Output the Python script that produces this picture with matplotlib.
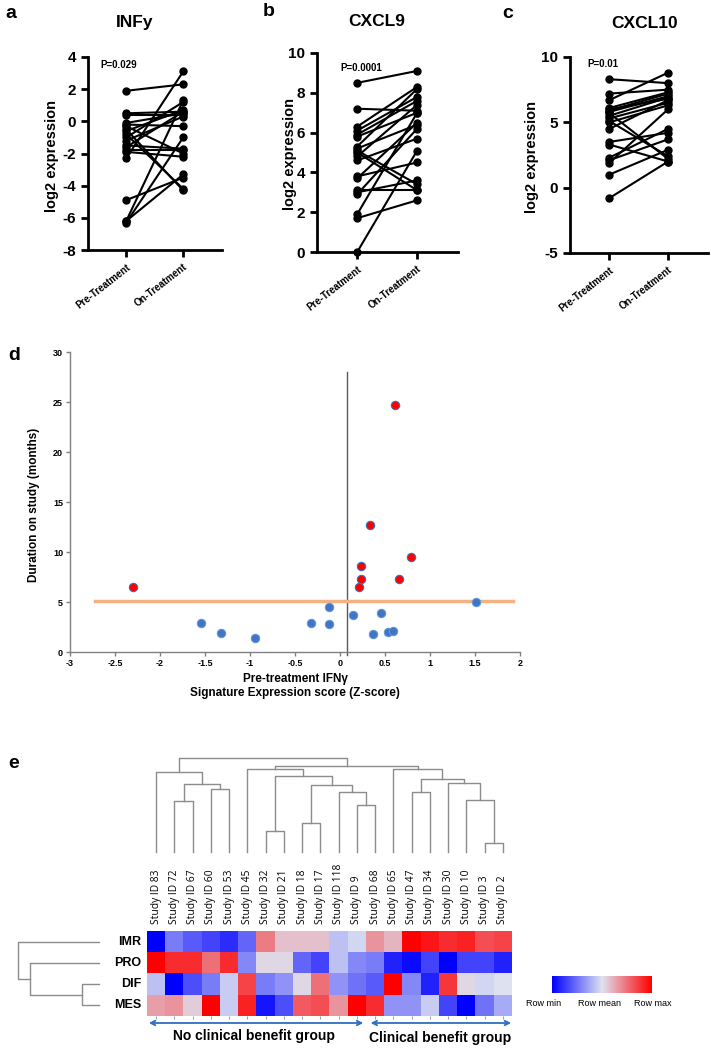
import numpy as np
import matplotlib
matplotlib.use("Agg")
import matplotlib.pyplot as plt
from matplotlib import transforms
from matplotlib.colors import LinearSegmentedColormap

plt.rcParams['font.family'] = ['Liberation Sans', 'DejaVu Sans']
NARROW = ['Liberation Sans Narrow', 'Liberation Sans', 'DejaVu Sans']

W, H = 711, 1050

# ---------------- panels a-c : paired pre / on treatment ----------------
groups = ["Pre-Treatment", "On-Treatment"]

infy_pre = [1.9, 0.5, 0.4, -0.1, -0.2, -0.3, -0.5, -0.6, -0.8, -1.0,
            -1.2, -1.5, -1.6, -1.8, -1.9, -2.3, -4.9, -6.2, -6.3, -6.2]
infy_on = [2.3, 0.6, 0.4, 0.5, -0.3, -2.0, -4.3, 0.7, -4.2, 1.2,
           0.3, -1.7, 0.6, -1.8, -2.2, 3.1, -3.5, 1.3, -1.0, -3.3]

cxcl9_pre = [8.5, 7.2, 6.3, 6.1, 5.9, 5.8, 5.3, 5.2, 5.1, 5.0,
             4.8, 4.6, 3.8, 3.7, 3.1, 2.9, 1.9, 1.7, 0.0, 3.0]
cxcl9_on = [9.1, 7.1, 8.3, 7.8, 7.6, 7.0, 8.2, 6.4, 3.4, 3.1,
            7.4, 5.7, 4.5, 6.5, 3.1, 6.2, 7.0, 2.6, 5.1, 3.6]

cxcl10_pre = [8.3, 7.2, 6.7, 6.1, 5.9, 5.7, 5.5, 5.3, 5.1, 4.5,
              3.5, 3.3, 2.3, 2.1, 1.9, 1.0, -0.8, 5.8, 6.0, 5.0]
cxcl10_on = [8.0, 7.5, 8.8, 7.3, 7.2, 2.2, 6.9, 6.5, 2.4, 6.7,
             4.2, 2.0, 4.5, 3.7, 6.0, 2.9, 2.0, 7.0, 6.8, 6.3]

# ---------------- panel d : IFNg score vs duration ----------------
benefit_x = [-2.30, 0.61, 0.33, 0.79, 0.23, 0.23, 0.65, 0.21]
benefit_y = [6.5, 24.7, 12.7, 9.5, 8.6, 7.3, 7.3, 6.5]
nobenefit_x = [1.51, -1.55, -1.32, -0.95, -0.32, -0.12, -0.12, 0.14, 0.45, 0.37, 0.53, 0.59]
nobenefit_y = [5.0, 2.9, 1.9, 1.4, 2.9, 4.5, 2.8, 3.7, 3.9, 1.8, 2.0, 2.1]
cutoff_x = 0.08
cutoff_y = 5.15
d_xticks = [-3, -2.5, -2, -1.5, -1, -0.5, 0, 0.5, 1, 1.5, 2]
d_yticks = [0, 5, 10, 15, 20, 25, 30]

# ---------------- panel e : heatmap ----------------
study_ids = ["Study ID 83", "Study ID 72", "Study ID 67", "Study ID 60", "Study ID 53",
             "Study ID 45", "Study ID 32", "Study ID 21", "Study ID 18", "Study ID 17",
             "Study ID 118", "Study ID 9", "Study ID 68", "Study ID 65", "Study ID 47",
             "Study ID 34", "Study ID 30", "Study ID 10", "Study ID 3", "Study ID 2"]
row_names = ["IMR", "PRO", "DIF", "MES"]
imr = [-1.0, -0.45, -0.6, -0.7, -0.8, -0.55, 0.45, 0.15, 0.15, 0.15,
       -0.15, -0.05, 0.35, 0.2, 1.0, 0.9, 0.8, 0.85, 0.65, 0.7]
pro = [1.0, 0.8, 0.8, 0.5, 0.8, -0.4, 0.05, 0.05, -0.55, -0.7,
       -0.15, -0.4, -0.45, -0.85, -0.95, -0.7, -1.0, -0.7, -0.7, -0.85]
dif = [-0.15, -1.0, -0.65, -0.45, -0.1, 0.7, -0.45, -0.35, 0.05, 0.5,
       -0.35, -0.5, -0.6, 1.0, -0.4, -0.85, 0.75, 0.05, -0.05, 0.0]
mes = [0.3, 0.35, 0.1, 1.0, -0.1, 0.85, -0.9, -0.65, 0.6, 0.65,
       0.35, 1.0, 0.8, -0.35, -0.35, -0.1, -0.7, -1.0, -0.5, -0.25]
# merges (left, right, height); new node ids continue after the leaves
col_links = [(18, 19, 27), (6, 7, 63), (8, 9, 87), (11, 12, 140), (1, 2, 153),
             (17, 20, 155), (10, 23, 179), (14, 15, 180), (3, 4, 189), (22, 26, 200),
             (24, 28, 202), (16, 25, 205), (27, 31, 217), (21, 29, 225), (0, 30, 237),
             (5, 33, 247), (13, 32, 247), (35, 36, 257), (34, 37, 280)]
row_links = [(2, 3, 17), (1, 4, 69), (0, 5, 81)]
n_nobenefit = 12

fig = plt.figure(figsize=(W / 100, H / 100), dpi=100)


def add_ax(x0, y0, x1, y1):
    return fig.add_axes([x0 / W, 1 - y1 / H, (x1 - x0) / W, (y1 - y0) / H])


def ftext(x, y, s, **kw):
    return fig.text(x / W, 1 - y / H, s, **kw)


def paired(box, pre, on, ylim, yticks, title, tpos, ptxt, ppos, letter, lpos, ylab_x):
    ax = add_ax(*box)
    for a, b in zip(pre, on):
        ax.plot([0, 1], [a, b], color='black', lw=1.5, marker='o', ms=5, zorder=3,
                clip_on=False)
    ax.set_xlim(-0.67, 1.68)
    ax.set_ylim(*ylim)
    for s in ['top', 'right']:
        ax.spines[s].set_visible(False)
    for s in ['left', 'bottom']:
        ax.spines[s].set_linewidth(2)
    ax.tick_params(width=2, length=5)
    ax.set_yticks(yticks, labels=[str(t) for t in yticks], fontweight='bold', fontsize=11)
    ax.set_xticks([0, 1], labels=groups, rotation=38, ha='right',
                  rotation_mode='anchor', fontweight='bold', fontsize=7)
    ftext(tpos[0], tpos[1], title, ha='center', va='center', fontweight='bold', fontsize=12.5)
    ftext(ppos[0], ppos[1], ptxt, ha='left', va='center', fontweight='bold', fontsize=7)
    ftext(lpos[0], lpos[1], letter, ha='center', va='center', fontweight='bold', fontsize=14)
    ftext(ylab_x, (box[1] + box[3]) / 2 + 2, "log2 expression", rotation=90,
          ha='center', va='center', fontweight='bold', fontsize=10.5)
    return ax


paired((88, 57, 222, 250), infy_pre, infy_on, (-8, 4), [-8, -6, -4, -2, 0, 2, 4],
       "INFy", (135, 23), "P=0.029", (100, 65), "a", (11, 13), 52)
paired((317, 53, 458, 252), cxcl9_pre, cxcl9_on, (0, 10), [0, 2, 4, 6, 8, 10],
       "CXCL9", (377, 22), "P=0.0001", (340, 68), "b", (269, 11), 290)
paired((570, 57, 708, 253), cxcl10_pre, cxcl10_on, (-5, 10), [-5, 0, 5, 10],
       "CXCL10", (645, 23), "P=0.01", (587, 64), "c", (508, 13), 532)

# ---------------- panel d ----------------
axd = add_ax(70, 352, 520, 652)
axd.set_xlim(-3, 2)
axd.set_ylim(0, 30)
for s in ['top', 'right']:
    axd.spines[s].set_visible(False)
for s in ['left', 'bottom']:
    axd.spines[s].set_color('#808080')
    axd.spines[s].set_linewidth(1)
axd.tick_params(color='#808080', length=3, width=1, pad=2)
axd.set_xticks(d_xticks, labels=[f"{t:g}" for t in d_xticks], family=NARROW,
               fontweight='bold', fontsize=6.5)
axd.set_yticks(d_yticks, labels=[str(t) for t in d_yticks], family=NARROW,
               fontweight='bold', fontsize=6.5)
axd.plot([cutoff_x, cutoff_x], [-0.25, 28], color='#595959', lw=1, clip_on=False, zorder=2)
axd.plot([-2.72, 1.92], [cutoff_y, cutoff_y], color='#F4B183', lw=2.5, zorder=2)
axd.scatter(nobenefit_x, nobenefit_y, s=36, c='#4472C4', edgecolors='#5B9BD5',
            linewidths=0.8, zorder=3)
axd.scatter(benefit_x, benefit_y, s=36, c='#FF0000', edgecolors='#2E75B6',
            linewidths=0.8, zorder=3)
ftext(34, 505, "Duration on study (months)", rotation=90, ha='center', va='center',
      fontweight='bold', fontsize=8.5)
ftext(295, 679, "Pre-treatment IFN\u03b3", ha='center', va='center',
      fontweight='bold', fontsize=8.5)
ftext(295, 693, "Signature Expression score (Z-score)", ha='center', va='center',
      fontweight='bold', fontsize=8.5)
ftext(14, 355, "d", ha='center', va='center', fontweight='bold', fontsize=14)

# ---------------- panel e ----------------
cmap = LinearSegmentedColormap.from_list("rowscale", ["#0000FF", "#DEE3F1", "#FF0000"])
heat = np.array([imr, pro, dif, mes])

axh = add_ax(147, 931, 512, 1016)
axh.imshow(heat, cmap=cmap, vmin=-1, vmax=1, aspect='auto', interpolation='nearest')
axh.set_yticks([])
axh.set_xticks(range(len(study_ids)), labels=[])
axh.tick_params(axis='x', length=2, color='#9aa4b8', width=0.8)
for s in axh.spines.values():
    s.set_visible(False)

lab_tr = transforms.blended_transform_factory(axh.transData, fig.transFigure)
for i, sid in enumerate(study_ids):
    axh.text(i, 1 - 924 / H, sid, transform=lab_tr, rotation=90, ha='center',
             va='bottom', family=['Open Sans', 'DejaVu Sans'], fontsize=7.4)

for j, rn in enumerate(row_names):
    ytr = transforms.blended_transform_factory(fig.transFigure, axh.transData)
    axh.text(141 / W, j, rn, transform=ytr, ha='right', va='center',
             family=NARROW, fontweight='bold', fontsize=9)


def dendro(ax, links, n, vertical=True):
    pos = {i: float(i) for i in range(n)}
    hgt = {i: 0.0 for i in range(n)}
    for k, (a, b, h) in enumerate(links):
        xs = [pos[a], pos[a], pos[b], pos[b]]
        ys = [hgt[a], h, h, hgt[b]]
        if vertical:
            ax.plot(xs, ys, color='#8c8c8c', lw=1, clip_on=False)
        else:
            ax.plot(ys, xs, color='#8c8c8c', lw=1, clip_on=False)
        pos[n + k] = (pos[a] + pos[b]) / 2
        hgt[n + k] = h


axc = add_ax(147, 758, 512, 852)
dendro(axc, col_links, len(study_ids), vertical=True)
axc.set_xlim(-0.5, len(study_ids) - 0.5)
axc.set_ylim(0, 280)
axc.axis('off')

axr = add_ax(18, 931, 99, 1016)
dendro(axr, row_links, len(row_names), vertical=False)
axr.set_xlim(81, 0)
axr.set_ylim(len(row_names) - 0.5, -0.5)
axr.axis('off')

# group arrows
arrow_kw = dict(arrowstyle='<->', color='#2E6DC0', lw=1.3, mutation_scale=8)
axh.annotate("", xy=(-0.55, 27), xytext=(n_nobenefit - 0.5, 27),
             xycoords=('data', 'figure pixels'), textcoords=('data', 'figure pixels'),
             arrowprops=arrow_kw, annotation_clip=False)
axh.annotate("", xy=(n_nobenefit - 0.4, 27), xytext=(len(study_ids) - 0.4, 27),
             xycoords=('data', 'figure pixels'), textcoords=('data', 'figure pixels'),
             arrowprops=arrow_kw, annotation_clip=False)
ftext(254, 1036, "No clinical benefit group", ha='center', va='center',
      family=NARROW, fontweight='bold', fontsize=10)
ftext(440, 1038, "Clinical benefit group", ha='center', va='center',
      family=NARROW, fontweight='bold', fontsize=10)

# colour key
axk = add_ax(552, 976, 652, 993)
axk.imshow(np.linspace(-1, 1, 256)[None, :], cmap=cmap, aspect='auto')
axk.axis('off')
for x, s in [(544, "Row min"), (600, "Row mean"), (653, "Row max")]:
    ftext(x, 1003, s, ha='center', va='center', family=NARROW, fontsize=6.5)

ftext(14, 764, "e", ha='center', va='center', fontweight='bold', fontsize=14)

fig.savefig("out.png", dpi=100)
